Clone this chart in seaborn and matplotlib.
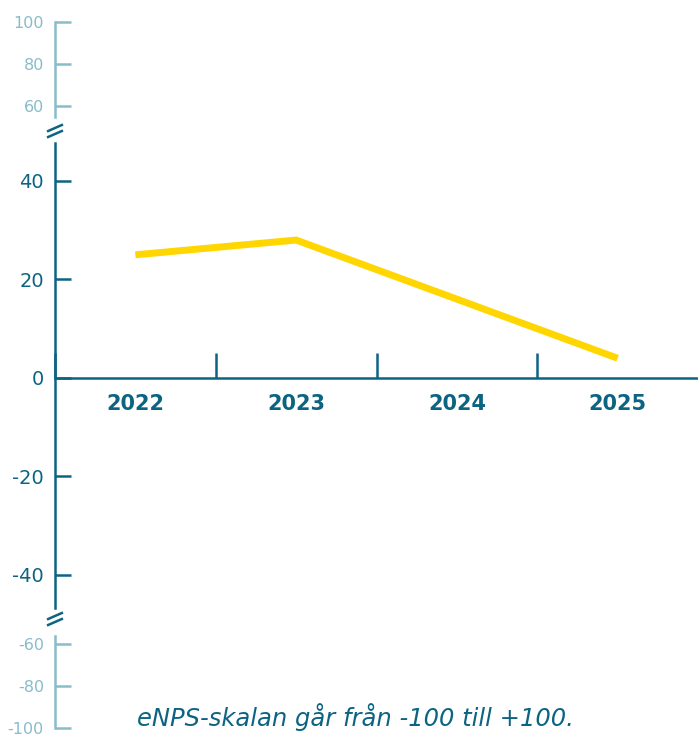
import matplotlib
matplotlib.use('Agg')
import matplotlib.pyplot as plt
import seaborn as sns
import pandas as pd
from matplotlib.lines import Line2D

# ---- data ----
years = ['2022', '2023', '2024', '2025']
enps = [25, 28, 16, 4]
main_ticks = [-40, -20, 0, 20, 40]
upper_ticks = [60, 80, 100]
lower_ticks = [-100, -80, -60]
separators = [-0.5, 0.5, 1.5, 2.5]
caption = 'eNPS-skalan går från -100 till +100.'

DARK = '#0c6482'
LIGHT = '#88bccb'
GOLD = '#FFD600'

sns.set_style('white')
plt.rcParams['font.family'] = ['DejaVu Sans']

W, H = 698, 735
fig = plt.figure(figsize=(W / 100, H / 100), dpi=100)


def fy(px):
    return 1 - px / H


left = 55 / W
ax = fig.add_axes([left, fy(608), 1 - left, (608 - 143) / H])
ax_top = fig.add_axes([left, fy(117), 0.05, 95 / H])
ax_bot = fig.add_axes([left, fy(728), 0.05, 92 / H])

df = pd.DataFrame({'year': years, 'enps': enps})
sns.lineplot(data=df, x='year', y='enps', ax=ax, color=GOLD, linewidth=5,
             solid_capstyle='butt', solid_joinstyle='miter', sort=False)

ax.set_xlim(-0.5, 3.5)
ax.set_ylim(-46.7, 47.7)
ax.set_xlabel('')
ax.set_ylabel('')
ax.patch.set_alpha(0)
for s in ['top', 'right']:
    ax.spines[s].set_visible(False)
ax.spines['left'].set_color(DARK)
ax.spines['left'].set_linewidth(1.8)
ax.spines['bottom'].set_position(('data', 0))
ax.spines['bottom'].set_color(DARK)
ax.spines['bottom'].set_linewidth(1.8)

ax.set_yticks(main_ticks)
ax.set_yticklabels([str(t) for t in main_ticks])
ax.tick_params(axis='y', left=True, direction='in', length=11.5, width=1.8, color=DARK,
               labelcolor=DARK, labelsize=14, pad=8)
ax.set_xticks(range(len(years)))
ax.set_xticklabels(years, fontweight='bold')
ax.set_xticks(separators, minor=True)
ax.tick_params(axis='x', which='major', bottom=True, length=0, labelcolor=DARK,
               labelsize=15, pad=11.5)
ax.tick_params(axis='x', which='minor', bottom=True, direction='in', length=18,
               width=1.8, color=DARK)

for a, lim, ticks in [(ax_top, (54.8, 100), upper_ticks),
                      (ax_bot, (-100, -56.2), lower_ticks)]:
    a.set_ylim(*lim)
    a.patch.set_alpha(0)
    for s in ['top', 'right', 'bottom']:
        a.spines[s].set_visible(False)
    a.spines['left'].set_color(LIGHT)
    a.spines['left'].set_linewidth(1.8)
    a.set_xticks([])
    a.set_yticks(ticks)
    a.set_yticklabels([str(t) for t in ticks])
    a.tick_params(axis='y', left=True, direction='in', length=11.5, width=1.8,
                  color=LIGHT, labelcolor=LIGHT, labelsize=11.5, pad=8)

# axis break marks
for yc in (131, 619):
    for dy in (-3, 3):
        fig.add_artist(Line2D([47 / W, 63 / W], [fy(yc + dy + 3.5), fy(yc + dy - 3.5)],
                              color=DARK, linewidth=1.8, solid_capstyle='butt'))

fig.text(355 / W, fy(717), caption, ha='center', va='center', style='italic',
         fontsize=17.5, color=DARK)

fig.savefig('out.png', dpi=100)
